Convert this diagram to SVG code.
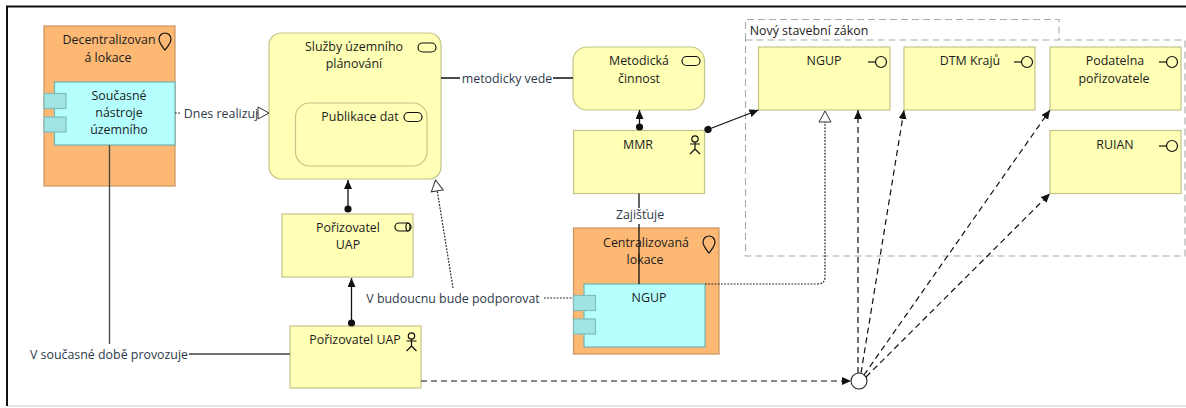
<svg xmlns="http://www.w3.org/2000/svg" width="1186" height="408" viewBox="0 0 1186 408">
<style>
text{font-family:"Open Sans","Noto Sans",sans-serif;font-size:12.400px;fill:#1c1c1c;text-anchor:middle}
.lb{fill:#2d3a4a}
.y{fill:#ffffb5;stroke:#c4c48a;stroke-width:1.2}
.o{fill:#fdb874;stroke:#c8935c;stroke-width:1.2}
.c{fill:#b5ffff;stroke:#6fb5b5;stroke-width:1.2}
.t{fill:#a0e4e4;stroke:#80bcbc;stroke-width:1.2}
.ic{fill:none;stroke:#111;stroke-width:1.2}
.ln{fill:none;stroke:#111;stroke-width:1.3}
.gr{fill:none;stroke:#444;stroke-width:1.3}
.dash{fill:none;stroke:#111;stroke-width:1.2;stroke-dasharray:6 4}
.dot{fill:none;stroke:#222;stroke-width:1.2;stroke-dasharray:1.8 1.4}
.grp{fill:none;stroke:#aaa;stroke-width:1.1;stroke-dasharray:7 4}
</style>
<defs>
<marker id="a" markerUnits="userSpaceOnUse" markerWidth="10" markerHeight="10" refX="9" refY="4" orient="auto"><path d="M0 0L9 4L0 8Z" fill="#111"/></marker>
<marker id="d" markerUnits="userSpaceOnUse" markerWidth="10" markerHeight="10" refX="4" refY="4" orient="auto"><circle cx="4" cy="4" r="3.6" fill="#111"/></marker>
<marker id="r" markerUnits="userSpaceOnUse" markerWidth="16" markerHeight="16" refX="12" refY="7" orient="auto"><path d="M1 1L12 7L1 13Z" fill="#fff" stroke="#333" stroke-width="1"/></marker>
<g id="loc"><path class="ic" d="M0 11C-3 7-6 4-6 0A6 6 0 0 1 6 0C6 4 3 7 0 11Z"/></g>
<g id="svc"><rect class="ic" x="-9" y="-4.500" width="18" height="9" rx="4.500"/></g>
<g id="ifc"><circle class="ic" cx="4" cy="0" r="5.500"/><path class="ic" d="M-9 0H-1.500"/></g>
<g id="act"><circle class="ic" cx="0" cy="-6" r="3.200"/><path class="ic" d="M0-3V4M-5-1H5M0 4L-5 9M0 4L5 9"/></g>
</defs>
<rect width="1186" height="408" fill="#fff"/>
<path d="M7 406H1186" stroke="#ccc" stroke-width="1" fill="none"/>
<path d="M7 406V6.500H1186" stroke="#111" stroke-width="2" fill="none"/>

<g id="group-novy"><path class="grp" d="M745.500 40V19.500H1059V40M745.500 40H1185V256H745.500Z"/><text x="809" y="35">Nový stavební zákon</text></g>
<g id="decentralizovana"><rect class="o" x="44" y="26" width="131" height="160"/><text x="109" y="44">Decentralizovan</text><text x="108" y="61.500">á lokace</text><use href="#loc" x="165" y="39"/></g>
<g id="soucasne"><rect class="c" x="54.500" y="82" width="120.500" height="63"/><rect class="t" x="44" y="93.500" width="22" height="15"/><rect class="t" x="44" y="117" width="22" height="15"/><text x="119" y="100">Současné</text><text x="119" y="117">nástroje</text><text x="119" y="134">územního</text></g>
<g id="sluzby"><rect class="y" x="269" y="33" width="172" height="146" rx="12"/><text x="354" y="51">Služby územního</text><text x="354" y="68">plánování</text><use href="#svc" x="427" y="47.500"/></g>
<g id="publikace"><rect class="y" x="295.500" y="103" width="131.500" height="63" rx="14"/><text x="360" y="121">Publikace dat</text><use href="#svc" x="413" y="117"/></g>
<g id="porizovatel-role"><rect class="y" x="282" y="214" width="131" height="63"/><text x="348" y="232">Pořizovatel</text><text x="348" y="249">UAP</text><rect class="ic" x="395" y="223" width="16" height="8" rx="4"/><ellipse class="ic" cx="408" cy="227" rx="2" ry="4"/></g>
<g id="porizovatel-actor"><rect class="y" x="290" y="326" width="131" height="62"/><text x="355" y="344">Pořizovatel UAP</text><use href="#act" x="411.500" y="342"/></g>
<g id="metodicka"><rect class="y" x="573" y="47" width="131.500" height="63" rx="14"/><text x="639" y="65">Metodická</text><text x="639" y="83">činnost</text><use href="#svc" x="691" y="61"/></g>
<g id="mmr"><rect class="y" x="573.500" y="130.500" width="131" height="63"/><text x="638" y="149">MMR</text><use href="#act" x="695" y="145"/></g>
<g id="centralizovana"><rect class="o" x="573.500" y="228" width="145.500" height="126"/><text x="646" y="247">Centralizovaná</text><text x="645" y="264">lokace</text><use href="#loc" x="709" y="242"/></g>
<g id="ngup-comp"><rect class="c" x="584" y="284" width="121" height="63"/><rect class="t" x="573.500" y="295.500" width="22" height="15"/><rect class="t" x="573.500" y="319" width="22" height="15"/><text x="649" y="302">NGUP</text></g>
<g id="ngup"><rect class="y" x="758.500" y="47" width="131.500" height="63"/><text x="824" y="65">NGUP</text><use href="#ifc" x="877" y="62"/></g>
<g id="dtm"><rect class="y" x="904" y="47" width="131" height="63"/><text x="970" y="65">DTM Krajů</text><use href="#ifc" x="1023" y="62"/></g>
<g id="podatelna"><rect class="y" x="1050" y="47" width="131" height="63"/><text x="1115" y="65">Podatelna</text><text x="1114" y="83">pořizovatele</text><use href="#ifc" x="1168" y="62"/></g>
<g id="ruian"><rect class="y" x="1050" y="130.500" width="131" height="63"/><text x="1115" y="149">RUIAN</text><use href="#ifc" x="1168" y="146"/></g>

<g id="connectors">
<path class="gr" d="M109.500 145V344M189 354H290"/>
<path class="ln" d="M441 78H460M553 78H573"/>
<path class="ln" d="M639 193.500V208M639 224V284"/>
<path class="dot" d="M175 113H181M257 113H269" marker-end="url(#r)"/>
<path class="dot" d="M453 288L435.500 180" marker-end="url(#r)"/>
<path class="dot" d="M544 298H573"/>
<path class="dot" d="M705 284H818Q825 284 825 277V111" marker-end="url(#r)"/>
<path class="ln" d="M348 209V180" marker-start="url(#d)" marker-end="url(#a)"/>
<path class="ln" d="M351.500 323V278" marker-start="url(#d)" marker-end="url(#a)"/>
<path class="ln" d="M639.500 127V110" marker-start="url(#d)" marker-end="url(#a)"/>
<path class="ln" d="M708 129.500L758.500 110" marker-start="url(#d)" marker-end="url(#a)"/>
<path class="dash" d="M421 381H851" marker-end="url(#a)"/>
<path class="dash" d="M858 373V110" marker-end="url(#a)"/>
<path class="dash" d="M861 373L904 110" marker-end="url(#a)"/>
<path class="dash" d="M864 375L1050 110" marker-end="url(#a)"/>
<path class="dash" d="M866 377L1050 193.500" marker-end="url(#a)"/>
<circle id="junction" cx="859" cy="381" r="8" fill="#fff" stroke="#222" stroke-width="1.1"/>
<text class="lb" x="221" y="118">Dnes realizuj</text>
<text class="lb" x="507" y="83">metodicky vede</text>
<text class="lb" x="640" y="219">Zajišťuje</text>
<text class="lb" x="453" y="303">V budoucnu bude podporovat</text>
<text class="lb" x="109" y="359">V současné době provozuje</text>
</g>
</svg>
